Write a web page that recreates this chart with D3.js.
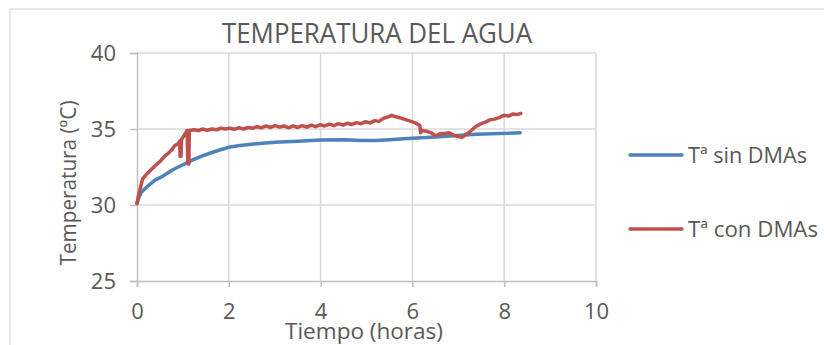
<!DOCTYPE html>
<html>
<head>
<meta charset="utf-8">
<script src="https://cdn.jsdelivr.net/npm/d3@7"></script>
<style>
  html, body { margin: 0; padding: 0; background: #fff; }
  text { font-family: "Open Sans", sans-serif; fill: #595959; }
</style>
</head>
<body>
<div id="chart"></div>
<script>
// datos: [tiempo (h), temperatura (ºC)]
const sinDMAs = [
  [0, 30.1], [0.05, 30.55], [0.1, 30.85], [0.2, 31.15], [0.3, 31.4], [0.4, 31.65],
  [0.5, 31.8], [0.6, 31.98], [0.8, 32.35], [1.0, 32.65], [1.2, 32.95], [1.4, 33.2],
  [1.6, 33.42], [1.8, 33.62], [2.0, 33.8], [2.2, 33.9], [2.5, 34.0], [2.8, 34.08],
  [3.0, 34.13], [3.5, 34.2], [4.0, 34.28], [4.5, 34.3], [4.9, 34.25], [5.2, 34.25],
  [5.5, 34.3], [5.9, 34.37], [6.4, 34.45], [6.9, 34.55], [7.4, 34.65], [7.9, 34.7],
  [8.35, 34.75]
];

const conDMAs = [
  [0, 30.1], [0.03, 30.6], [0.08, 31.2], [0.12, 31.7], [0.2, 32.0], [0.3, 32.3],
  [0.4, 32.6], [0.5, 32.85], [0.6, 33.2], [0.68, 33.4], [0.75, 33.6], [0.82, 33.9],
  [0.9, 34.05], [0.93, 34.2], [0.94, 33.2], [0.96, 33.2], [0.97, 34.3], [1.01, 34.5],
  [1.07, 34.8], [1.09, 34.9], [1.11, 32.7], [1.13, 32.7], [1.14, 34.9], [1.24, 34.95],
  [1.34, 34.9], [1.43, 35.0], [1.53, 34.92], [1.63, 35.0], [1.73, 34.95], [1.83, 35.05],
  [1.93, 35.0], [2.02, 35.05], [2.12, 34.98], [2.22, 35.08], [2.32, 35.0], [2.42, 35.1],
  [2.52, 35.05], [2.61, 35.15], [2.71, 35.08], [2.81, 35.2], [2.91, 35.1], [3.01, 35.22],
  [3.11, 35.12], [3.2, 35.2], [3.3, 35.08], [3.4, 35.2], [3.5, 35.1], [3.6, 35.22],
  [3.7, 35.12], [3.8, 35.25], [3.89, 35.15], [3.99, 35.28], [4.09, 35.2], [4.19, 35.32],
  [4.29, 35.22], [4.39, 35.35], [4.49, 35.25], [4.58, 35.38], [4.68, 35.3], [4.78, 35.42],
  [4.88, 35.35], [4.98, 35.48], [5.08, 35.4], [5.18, 35.55], [5.27, 35.5], [5.37, 35.7],
  [5.47, 35.8], [5.55, 35.9], [5.62, 35.82], [5.77, 35.7], [5.92, 35.55], [6.06, 35.4],
  [6.16, 35.25], [6.18, 34.75], [6.21, 34.9], [6.31, 34.85], [6.41, 34.75], [6.51, 34.55],
  [6.61, 34.7], [6.7, 34.7], [6.8, 34.75], [6.9, 34.6], [7.0, 34.5], [7.08, 34.45],
  [7.2, 34.7], [7.3, 34.95], [7.4, 35.2], [7.5, 35.35], [7.59, 35.45], [7.69, 35.6],
  [7.79, 35.65], [7.89, 35.75], [7.99, 35.9], [8.09, 35.85], [8.18, 35.98], [8.28, 35.95],
  [8.36, 36.02]
];

const xTicks = [0, 2, 4, 6, 8, 10];
const yTicks = [25, 30, 35, 40];
const seriesNames = ["Tª sin DMAs", "Tª con DMAs"];
const seriesColors = ["#4F81BD", "#C0504D"];

const width = 824, height = 345;
const plot = { left: 137, right: 596, top: 53, bottom: 281 };

const svg = d3.select("#chart").append("svg")
  .attr("width", width)
  .attr("height", height);

// marco del gráfico
svg.append("rect")
  .attr("x", 10).attr("y", 9)
  .attr("width", width).attr("height", height)
  .attr("fill", "none")
  .attr("stroke", "#d9d9d9")
  .attr("stroke-width", 1.2);

const x = d3.scaleLinear().domain([0, 10]).range([plot.left, plot.right]);
const y = d3.scaleLinear().domain([25, 40]).range([plot.bottom, plot.top]);

// rejilla
svg.append("g").selectAll("line")
  .data(yTicks.slice(1))
  .join("line")
  .attr("x1", plot.left).attr("x2", plot.right)
  .attr("y1", d => y(d)).attr("y2", d => y(d))
  .attr("stroke", "#d9d9d9").attr("stroke-width", 1.5);

svg.append("g").selectAll("line")
  .data(xTicks.slice(1))
  .join("line")
  .attr("x1", d => x(d)).attr("x2", d => x(d))
  .attr("y1", plot.top).attr("y2", plot.bottom)
  .attr("stroke", "#d9d9d9").attr("stroke-width", 1.5);

// ejes
const yAxis = svg.append("g")
  .attr("transform", `translate(${plot.left},0)`)
  .call(d3.axisLeft(y).tickValues(yTicks).tickSize(7).tickPadding(14));
const xAxis = svg.append("g")
  .attr("transform", `translate(0,${plot.bottom})`)
  .call(d3.axisBottom(x).tickValues(xTicks).tickSize(6).tickPadding(16));

[yAxis, xAxis].forEach(a => {
  a.select(".domain").attr("stroke", "#bfbfbf").attr("stroke-width", 1.5);
  a.selectAll(".tick line").attr("stroke", "#bfbfbf").attr("stroke-width", 1.5);
  a.selectAll(".tick text")
    .attr("fill", "#595959")
    .style("font-family", "'Open Sans', sans-serif")
    .style("font-size", "22px");
});

// líneas
const line = d3.line()
  .x(d => x(d[0]))
  .y(d => y(d[1]));

[sinDMAs, conDMAs].forEach((s, i) => {
  svg.append("path")
    .datum(s)
    .attr("d", line)
    .attr("fill", "none")
    .attr("stroke", seriesColors[i])
    .attr("stroke-width", 3.5)
    .attr("stroke-linejoin", "round")
    .attr("stroke-linecap", "round");
});

// título
svg.append("text")
  .attr("x", 377).attr("y", 43)
  .attr("text-anchor", "middle")
  .attr("font-size", 28)
  .attr("textLength", 310)
  .attr("lengthAdjust", "spacingAndGlyphs")
  .text("TEMPERATURA DEL AGUA");

// títulos de ejes
svg.append("text")
  .attr("transform", "rotate(-90)")
  .attr("x", -183).attr("y", 76)
  .attr("text-anchor", "middle")
  .attr("font-size", 22)
  .attr("textLength", 165)
  .attr("lengthAdjust", "spacingAndGlyphs")
  .text("Temperatura (ºC)");

svg.append("text")
  .attr("x", 364).attr("y", 339)
  .attr("text-anchor", "middle")
  .attr("font-size", 22)
  .attr("textLength", 158)
  .attr("lengthAdjust", "spacingAndGlyphs")
  .text("Tiempo (horas)");

// leyenda
const legendY = [155, 229];
seriesNames.forEach((name, i) => {
  svg.append("line")
    .attr("x1", 630).attr("x2", 682)
    .attr("y1", legendY[i]).attr("y2", legendY[i])
    .attr("stroke", seriesColors[i])
    .attr("stroke-width", 3.5)
    .attr("stroke-linecap", "round");
  svg.append("text")
    .attr("x", 688).attr("y", legendY[i] + 8)
    .attr("font-size", 21)
    .attr("textLength", i === 0 ? 119 : 130)
    .attr("lengthAdjust", "spacingAndGlyphs")
    .text(name);
});
</script>
</body>
</html>
